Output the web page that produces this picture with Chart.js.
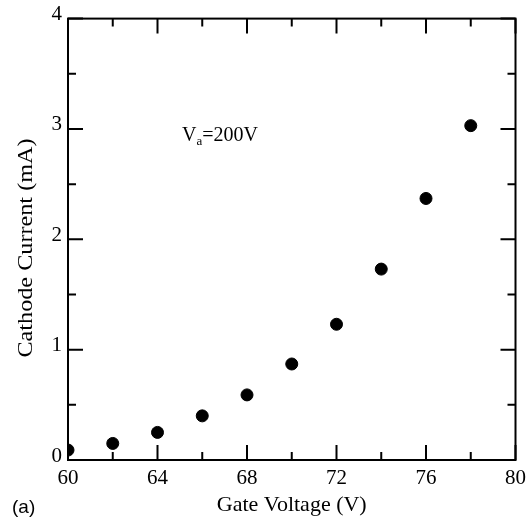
<!DOCTYPE html>
<html>
<head>
<meta charset="utf-8">
<script src="https://cdn.jsdelivr.net/npm/chart.js@4.4.1/dist/chart.umd.min.js"></script>
<style>
  html, body { margin: 0; padding: 0; background: #fff; }
</style>
</head>
<body>
<canvas id="chart" width="532" height="518"></canvas>
<script>
// gate voltage (V) and cathode current (mA)
const gateVoltage = [60, 62, 64, 66, 68, 70, 72, 74, 76, 78];
const cathodeCurrent = [0.09, 0.15, 0.25, 0.40, 0.59, 0.87, 1.23, 1.73, 2.37, 3.03];
const xTickLabels = [60, 64, 68, 72, 76, 80];
const yTickLabels = [0, 1, 2, 3, 4];

const serif = '"Liberation Serif", "Times New Roman", serif';

// box + inward ticks on all four sides, y title, V_a note and panel label
const frameTicks = {
    id: 'frameTicks',
    afterDraw(chart) {
        const c = chart.ctx;
        const a = chart.chartArea;
        const xs = chart.scales.x;
        const ys = chart.scales.y;
        c.save();
        c.strokeStyle = '#000';
        c.lineWidth = 2;
        c.strokeRect(a.left, a.top, a.right - a.left, a.bottom - a.top);

        c.beginPath();
        xs.ticks.forEach((t) => {
            const px = xs.getPixelForValue(t.value);
            const len = xTickLabels.includes(t.value) ? 15 : 8;
            c.moveTo(px, a.bottom); c.lineTo(px, a.bottom - len);
            c.moveTo(px, a.top); c.lineTo(px, a.top + len);
        });
        ys.ticks.forEach((t) => {
            const py = ys.getPixelForValue(t.value);
            const len = yTickLabels.includes(t.value) ? 15 : 8;
            c.moveTo(a.left, py); c.lineTo(a.left + len, py);
            c.moveTo(a.right, py); c.lineTo(a.right - len, py);
        });
        c.stroke();

        c.fillStyle = '#000';

        // y axis title (slightly stretched along its length like the scan)
        c.save();
        c.translate(26, 248);
        c.rotate(-Math.PI / 2);
        c.scale(1.1, 1);
        c.font = '22px ' + serif;
        c.textAlign = 'center';
        c.textBaseline = 'middle';
        c.fillText('Cathode Current (mA)', 0, 0);
        c.restore();

        // V_a = 200V note
        const nx = xs.getPixelForValue(65.1);
        const ny = ys.getPixelForValue(2.89);
        c.textBaseline = 'alphabetic';
        c.font = '20px ' + serif;
        c.fillText('V', nx, ny);
        let w = c.measureText('V').width;
        c.font = '13px ' + serif;
        c.fillText('a', nx + w, ny + 4);
        w += c.measureText('a').width;
        c.font = '20px ' + serif;
        c.fillText('=200V', nx + w, ny);

        // panel label
        c.font = '19px "Liberation Sans", Arial, sans-serif';
        c.textBaseline = 'middle';
        c.fillText('(a)', 12, 508);
        c.restore();
    }
};

const points = gateVoltage.map((v, i) => ({ x: v, y: cathodeCurrent[i] }));

new Chart(document.getElementById('chart'), {
    type: 'scatter',
    data: {
        datasets: [{
            data: points,
            backgroundColor: '#000',
            borderColor: '#000',
            pointRadius: 6,
            pointHoverRadius: 6
        }]
    },
    options: {
        responsive: false,
        animation: false,
        layout: { padding: { left: 0, right: 16, top: 17, bottom: 0 } },
        plugins: {
            legend: { display: false },
            tooltip: { enabled: false }
        },
        scales: {
            x: {
                type: 'linear',
                min: 60,
                max: 80,
                afterFit(scale) { scale.height = 58; },
                grid: { display: false, drawTicks: false },
                border: { display: false },
                ticks: {
                    stepSize: 2,
                    autoSkip: false,
                    maxRotation: 0,
                    padding: 6,
                    color: '#000',
                    font: { family: serif, size: 21 },
                    callback: (v) => xTickLabels.includes(v) ? String(v) : ''
                },
                title: {
                    display: true,
                    text: 'Gate Voltage (V)',
                    color: '#000',
                    font: { family: serif, size: 22 },
                    padding: { top: 0, bottom: 0 }
                }
            },
            y: {
                type: 'linear',
                min: 0,
                max: 4,
                afterFit(scale) { scale.width = 68; },
                grid: { display: false, drawTicks: false },
                border: { display: false },
                ticks: {
                    stepSize: 0.5,
                    autoSkip: false,
                    padding: 6,
                    labelOffset: -4,
                    color: '#000',
                    font: { family: serif, size: 21 },
                    callback: (v) => yTickLabels.includes(v) ? String(v) : ''
                },
                title: { display: false }
            }
        }
    },
    plugins: [frameTicks]
});
</script>
</body>
</html>
